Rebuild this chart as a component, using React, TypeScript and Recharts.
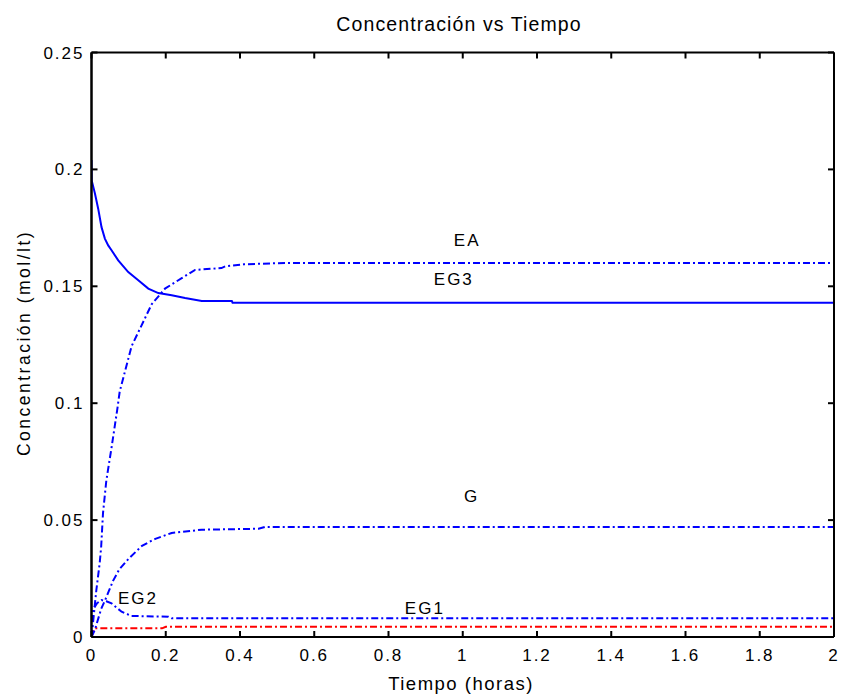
import React from 'react';
import { LineChart, Line, XAxis, YAxis, ReferenceDot, Customized } from 'recharts';

const xTicks = [0, 0.2, 0.4, 0.6, 0.8, 1, 1.2, 1.4, 1.6, 1.8, 2];
const yTicks = [0, 0.05, 0.1, 0.15, 0.2, 0.25];

const tEG3 = [0, 0.0005, 0.0094, 0.018, 0.027, 0.036, 0.045, 0.054, 0.072, 0.099, 0.126, 0.153, 0.18, 0.216, 0.252, 0.297, 0.378, 0.38, 2];
const vEG3 = [0.204, 0.1953, 0.1896, 0.1832, 0.1753, 0.1704, 0.1675, 0.1654, 0.1611, 0.1561, 0.1526, 0.149, 0.1471, 0.1462, 0.145, 0.1437, 0.1437, 0.143, 0.143];

const tEA = [0, 0.004, 0.013, 0.022, 0.026, 0.031, 0.04, 0.054, 0.07, 0.076, 0.108, 0.131, 0.162, 0.198, 0.243, 0.279, 0.35, 0.36, 0.41, 0.52, 2];
const vEA = [0, 0.006, 0.02, 0.0315, 0.0385, 0.053, 0.067, 0.081, 0.098, 0.105, 0.1244, 0.132, 0.1423, 0.149, 0.1535, 0.157, 0.1578, 0.1585, 0.1594, 0.16, 0.16];

const tG = [0, 0.009, 0.026, 0.04, 0.058, 0.075, 0.1, 0.136, 0.172, 0.216, 0.297, 0.45, 0.467, 2];
const vG = [0, 0.003, 0.012, 0.017, 0.024, 0.029, 0.0335, 0.039, 0.042, 0.0445, 0.0459, 0.0463, 0.0471, 0.0471];

const tEG2 = [0, 0.005, 0.015, 0.027, 0.04, 0.054, 0.081, 0.108, 0.207, 0.216, 2];
const vEG2 = [0, 0.012, 0.0145, 0.0158, 0.0153, 0.0144, 0.0108, 0.009, 0.0087, 0.008, 0.008];

const tEG1 = [0, 0.008, 0.19, 0.2, 2];
const vEG1 = [0, 0.0037, 0.0037, 0.0044, 0.0044];

const curveLabels = ['EA', 'EG3', 'G', 'EG1', 'EG2'];
const curveLabelT = [1.012, 0.976, 1.024, 0.898, 0.125];
const curveLabelV = [0.17, 0.1531, 0.0605, 0.0123, 0.0166];

const mk = (t: number[], v: number[]) => t.map((x, i) => ({ t: x, v: v[i] }));

const FONT = '"Liberation Sans", Arial, Helvetica, sans-serif';
const DASHDOT = '7 3 2 3';
const AX = { stroke: '#000', strokeWidth: 2 };

const Texts = () => (
  <g fontFamily={FONT} fill="#000">
    <text x={459} y={30.5} textAnchor="middle" fontSize={19.5} letterSpacing={1.1}>
      Concentración vs Tiempo
    </text>
    <text x={461} y={690} textAnchor="middle" fontSize={18.5} letterSpacing={1.5}>
      Tiempo (horas)
    </text>
    <text x={0} y={0} transform="translate(30,343) rotate(-90)" textAnchor="middle" fontSize={17.5} letterSpacing={2.5}>
      Concentración (mol/lt)
    </text>
  </g>
);

export default function App() {
  const tickStyle = { fill: '#000', fontSize: 17, letterSpacing: 2, fontFamily: FONT };
  const blank = () => '';
  return (
    <div style={{ position: 'absolute', left: 0, top: 0, background: '#fff' }}>
      <LineChart width={842} height={698} margin={{ top: 52.5, right: 8, bottom: 31, left: 31.5 }}>
        <XAxis
          dataKey="t"
          type="number"
          domain={[0, 2]}
          ticks={xTicks}
          allowDataOverflow
          height={30}
          tickLine={false}
          tickSize={0}
          tickMargin={12}
          tick={tickStyle}
          axisLine={AX}
        />
        <XAxis
          xAxisId="bm"
          dataKey="t"
          orientation="bottom"
          mirror
          type="number"
          domain={[0, 2]}
          ticks={xTicks}
          allowDataOverflow
          height={30}
          tickSize={6}
          tickFormatter={blank}
          tickLine={AX}
          axisLine={AX}
        />
        <XAxis
          xAxisId="top"
          dataKey="t"
          orientation="top"
          mirror
          type="number"
          domain={[0, 2]}
          ticks={xTicks}
          allowDataOverflow
          height={30}
          tickSize={6}
          tickFormatter={blank}
          tickLine={AX}
          axisLine={AX}
        />
        <YAxis
          type="number"
          domain={[0, 0.25]}
          ticks={yTicks}
          allowDataOverflow
          width={60}
          tickLine={false}
          tickSize={0}
          tickMargin={7}
          tick={tickStyle}
          axisLine={AX}
        />
        <YAxis
          yAxisId="lm"
          orientation="left"
          mirror
          type="number"
          domain={[0, 0.25]}
          ticks={yTicks}
          allowDataOverflow
          width={60}
          tickSize={6}
          tickFormatter={blank}
          tickLine={AX}
          axisLine={AX}
        />
        <YAxis
          yAxisId="right"
          orientation="right"
          mirror
          type="number"
          domain={[0, 0.25]}
          ticks={yTicks}
          allowDataOverflow
          width={60}
          tickSize={6}
          tickFormatter={blank}
          tickLine={AX}
          axisLine={AX}
        />
        <Line data={mk(tEG1, vEG1)} xAxisId="top" yAxisId="right" dataKey="v" type="linear" dot={false} stroke="#ff0000" strokeWidth={2} strokeDasharray={DASHDOT} isAnimationActive={false} />
        <Line data={mk(tEG2, vEG2)} xAxisId="bm" yAxisId="lm" dataKey="v" type="linear" dot={false} stroke="#0000ff" strokeWidth={2} strokeDasharray={DASHDOT} isAnimationActive={false} />
        <Line data={mk(tG, vG)} dataKey="v" type="linear" dot={false} stroke="#0000ff" strokeWidth={2} strokeDasharray={DASHDOT} isAnimationActive={false} />
        <Line data={mk(tEA, vEA)} dataKey="v" type="linear" dot={false} stroke="#0000ff" strokeWidth={2} strokeDasharray={DASHDOT} isAnimationActive={false} />
        <Line data={mk(tEG3, vEG3)} dataKey="v" type="linear" dot={false} stroke="#0000ff" strokeWidth={2} isAnimationActive={false} />
        {curveLabels.map((s, i) => (
          <ReferenceDot
            key={s}
            x={curveLabelT[i]}
            y={curveLabelV[i]}
            r={0}
            fill="none"
            stroke="none"
            label={{ value: s, position: 'center', fill: '#000', fontSize: 17, letterSpacing: 2, fontFamily: FONT }}
          />
        ))}
        <Customized component={<Texts />} />
      </LineChart>
    </div>
  );
}
